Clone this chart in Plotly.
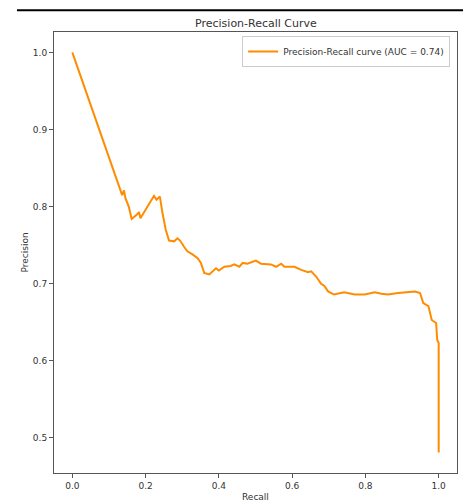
import plotly.graph_objects as go

recall = [0.0, 0.132, 0.136, 0.141, 0.145, 0.154, 0.162, 0.177, 0.182, 0.186,
          0.223, 0.230, 0.239, 0.246, 0.255, 0.264, 0.278, 0.287, 0.294, 0.305,
          0.314, 0.328, 0.342, 0.351, 0.360, 0.374, 0.392, 0.400, 0.415, 0.432,
          0.442, 0.456, 0.465, 0.478, 0.501, 0.515, 0.542, 0.556, 0.570, 0.579,
          0.606, 0.625, 0.643, 0.652, 0.666, 0.679, 0.688, 0.698, 0.714, 0.742,
          0.771, 0.798, 0.825, 0.844, 0.862, 0.889, 0.917, 0.935, 0.949, 0.958,
          0.972, 0.981, 0.993, 0.996, 1.0, 1.0]
precision = [1.0, 0.822, 0.815, 0.821, 0.811, 0.800, 0.784, 0.790, 0.793, 0.785,
             0.814, 0.809, 0.813, 0.792, 0.770, 0.756, 0.755, 0.759, 0.756, 0.748,
             0.742, 0.738, 0.733, 0.727, 0.714, 0.712, 0.720, 0.717, 0.722, 0.723,
             0.725, 0.722, 0.727, 0.726, 0.730, 0.726, 0.725, 0.722, 0.726, 0.722,
             0.722, 0.718, 0.715, 0.716, 0.709, 0.700, 0.697, 0.690, 0.686, 0.689,
             0.686, 0.686, 0.689, 0.687, 0.686, 0.688, 0.689, 0.690, 0.688, 0.675,
             0.671, 0.653, 0.649, 0.627, 0.623, 0.481]
auc_value = 0.74
x_ticks = [0.0, 0.2, 0.4, 0.6, 0.8, 1.0]
y_ticks = [0.5, 0.6, 0.7, 0.8, 0.9, 1.0]

FONT = "DejaVu Sans"
TXT = "#333333"

fig = go.Figure()
fig.add_trace(go.Scatter(
    x=recall, y=precision, mode="lines",
    line=dict(color="darkorange", width=2),
    name=f"Precision-Recall curve (AUC = {auc_value:.2f})",
))

axis_common = dict(
    showgrid=False, zeroline=False, showline=True, mirror=True,
    linecolor="#555555", linewidth=1, ticks="outside", ticklen=4,
    tickcolor="#555555", tickfont=dict(family=FONT, size=9, color=TXT),
)
fig.update_xaxes(range=[-0.05, 1.05], tickvals=x_ticks,
                 ticktext=[f"{v:.1f}" for v in x_ticks], **axis_common)
fig.update_yaxes(range=[0.4545, 1.0265], tickvals=y_ticks,
                 ticktext=[f"{v:.1f}" for v in y_ticks], **axis_common)

fig.update_layout(
    width=468, height=504,
    margin=dict(l=54, r=11, t=32, b=31),
    paper_bgcolor="white", plot_bgcolor="white",
    font=dict(family=FONT, color=TXT),
    showlegend=True,
    legend=dict(x=0.983, y=0.991, xanchor="right", yanchor="top",
                bordercolor="#cccccc", borderwidth=1, bgcolor="white",
                font=dict(family=FONT, size=9, color=TXT),
                itemwidth=30, tracegroupgap=0),
    annotations=[
        dict(text="Precision-Recall Curve", xref="paper", yref="paper",
             x=0.5, y=1.0, yshift=0, xanchor="center", yanchor="bottom",
             showarrow=False, font=dict(family=FONT, size=11, color=TXT)),
        dict(text="Recall", xref="paper", yref="paper",
             x=0.5, y=0, yshift=-17, xanchor="center", yanchor="top",
             showarrow=False, font=dict(family=FONT, size=9, color=TXT)),
        dict(text="Precision", xref="paper", yref="paper",
             x=0, y=0.5, xshift=-30, xanchor="center", yanchor="middle",
             textangle=-90, showarrow=False,
             font=dict(family=FONT, size=9, color=TXT)),
    ],
    shapes=[
        dict(type="line", xref="paper", yref="paper", layer="above",
             x0=-0.0918, x1=1.0149, y0=1.0495, y1=1.0495,
             line=dict(color="black", width=2)),
    ],
)

fig.write_html("out.html")
